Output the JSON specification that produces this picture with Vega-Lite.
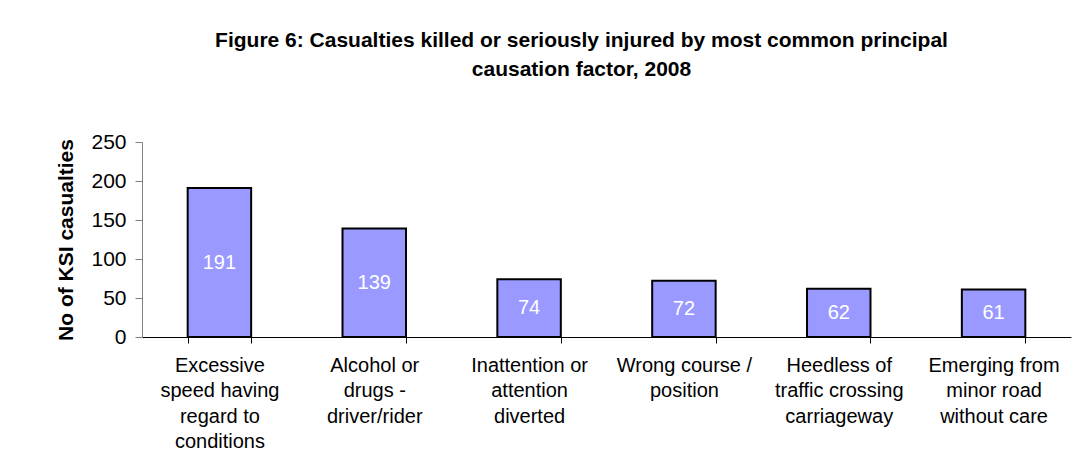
{
  "$schema": "https://vega.github.io/schema/vega-lite/v6.json",
  "autosize": {"type": "none"},
  "padding": {"left": 142, "top": 142, "right": 16, "bottom": 127},
  "width": 929,
  "height": 195,
  "background": "white",
  "title": {
    "text": ["Figure 6: Casualties killed or seriously injured by most common principal", "causation factor, 2008"],
    "font": "Liberation Sans",
    "fontSize": 21,
    "fontWeight": "bold",
    "color": "black",
    "lineHeight": 29,
    "anchor": "middle",
    "dx": -25,
    "offset": 51
  },
  "data": {
    "values": [
      {"cause": "Excessive speed having regard to conditions", "casualties": 191},
      {"cause": "Alcohol or drugs - driver/rider", "casualties": 139},
      {"cause": "Inattention or attention diverted", "casualties": 74},
      {"cause": "Wrong course / position", "casualties": 72},
      {"cause": "Heedless of traffic crossing carriageway", "casualties": 62},
      {"cause": "Emerging from minor road without care", "casualties": 61}
    ]
  },
  "encoding": {
    "x": {
      "field": "cause",
      "type": "nominal",
      "sort": null,
      "scale": {"paddingInner": 0.59, "paddingOuter": 0.295},
      "axis": {
        "title": null,
        "labelAngle": 0,
        "labelFont": "Liberation Sans",
        "labelFontSize": 20,
        "labelColor": "black",
        "labelLineHeight": 25.5,
        "labelPadding": 12,
        "labelBaseline": "top",
        "labelLimit": 300,
        "labelOverlap": false,
        "tickBand": "extent",
        "tickSize": 6,
        "tickColor": "black",
        "domainColor": "black",
        "grid": false,
        "labelExpr": "datum.value == 'Excessive speed having regard to conditions' ? ['Excessive', 'speed having', 'regard to', 'conditions'] : datum.value == 'Alcohol or drugs - driver/rider' ? ['Alcohol or', 'drugs -', 'driver/rider'] : datum.value == 'Inattention or attention diverted' ? ['Inattention or', 'attention', 'diverted'] : datum.value == 'Wrong course / position' ? ['Wrong course /', 'position'] : datum.value == 'Heedless of traffic crossing carriageway' ? ['Heedless of', 'traffic crossing', 'carriageway'] : datum.value == 'Emerging from minor road without care' ? ['Emerging from', 'minor road', 'without care'] : ''"
      }
    }
  },
  "layer": [
    {
      "mark": {"type": "bar", "color": "#9999FF", "stroke": "black", "strokeWidth": 2},
      "encoding": {
        "y": {
          "field": "casualties",
          "type": "quantitative",
          "scale": {"domain": [0, 250]},
          "axis": {
            "title": "No of KSI casualties",
            "titleFont": "Liberation Sans",
            "titleFontSize": 21,
            "titleFontWeight": "bold",
            "titleColor": "black",
            "titlePadding": 14,
            "values": [0, 50, 100, 150, 200, 250],
            "labelFont": "Liberation Sans",
            "labelFontSize": 21,
            "labelColor": "black",
            "labelPadding": 9,
            "tickSize": 7,
            "tickColor": "#808080",
            "domainColor": "#808080",
            "grid": false
          }
        }
      }
    },
    {
      "mark": {"type": "text", "color": "white", "font": "Liberation Sans", "fontSize": 20, "baseline": "middle"},
      "encoding": {
        "y": {
          "field": "casualties",
          "type": "quantitative",
          "scale": {"domain": [0, 500]},
          "axis": null
        },
        "text": {"field": "casualties", "type": "quantitative"}
      }
    }
  ],
  "resolve": {"scale": {"y": "independent"}},
  "config": {"view": {"stroke": null}}
}
